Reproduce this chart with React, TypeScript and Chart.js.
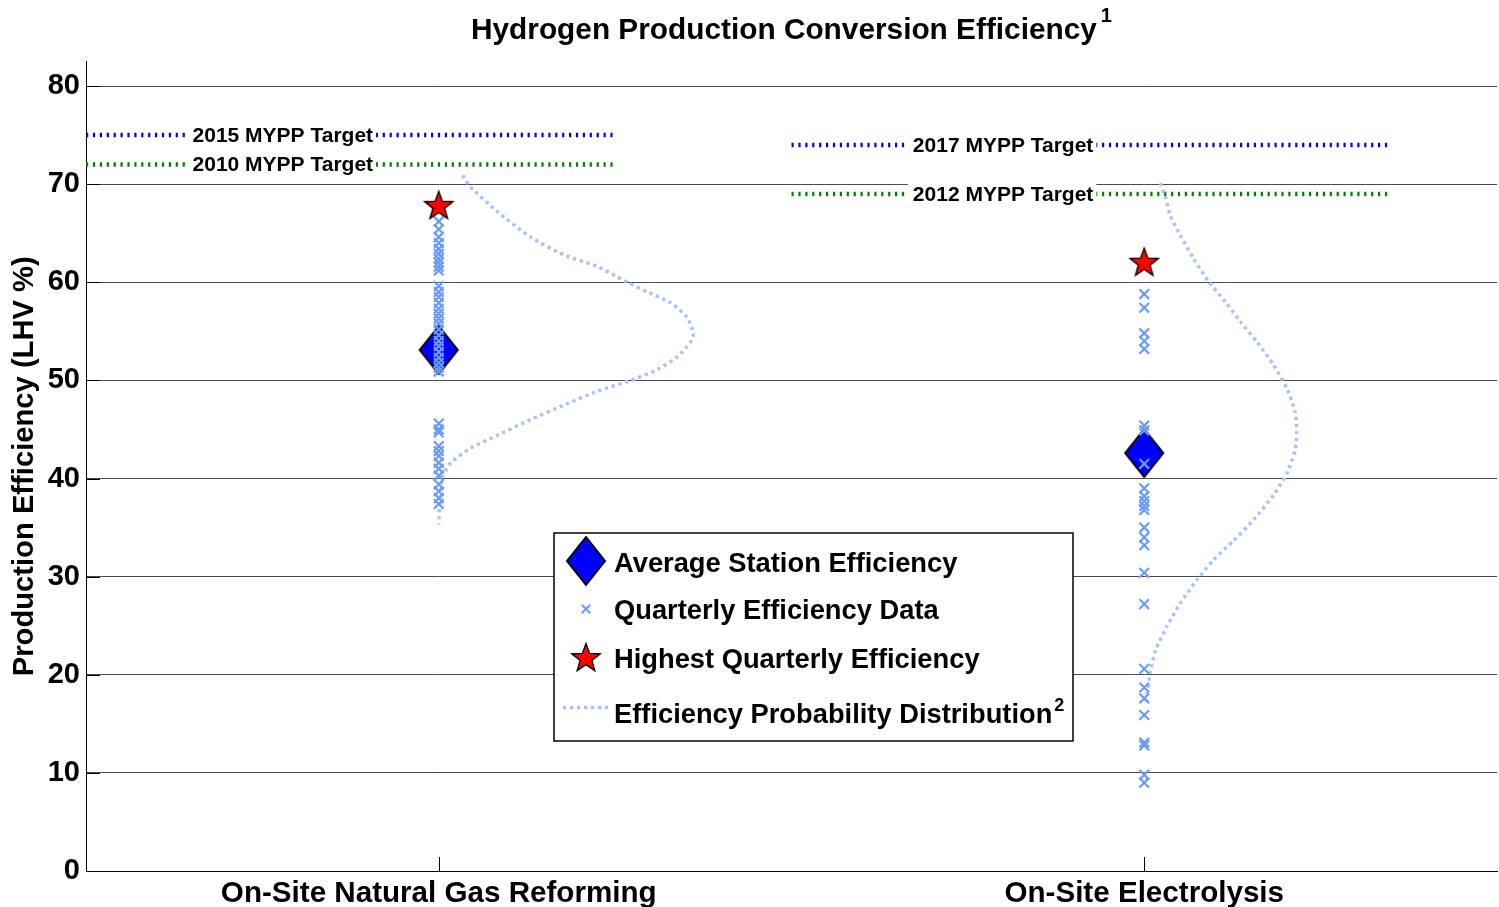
import React, { useEffect, useRef } from 'react';
import { Chart, registerables } from 'chart.js';

Chart.register(...registerables);

const FONT = '"Liberation Sans", Arial, Helvetica, sans-serif';

// ---------------- data ----------------
const categories = ['On-Site Natural Gas Reforming', 'On-Site Electrolysis'];
const yTicks = [0, 10, 20, 30, 40, 50, 60, 70, 80];

const ngQuarterly = [
  66.2, 65.4, 64.6, 64.0, 63.4, 62.9, 62.4, 62.0, 61.6, 61.2, 59.6, 59.0, 58.5, 57.9, 57.3,
  56.8, 56.3, 55.8, 55.2, 54.6, 54.0, 53.5, 52.9, 52.3, 51.8, 51.3, 50.9, 45.6, 45.0, 44.7,
  43.3, 42.8, 42.3, 41.6, 41.0, 40.3, 39.4, 38.7, 38.0, 37.4,
];
const elQuarterly = [
  58.8, 57.4, 54.8, 54.0, 53.2, 45.4, 44.9, 41.5, 39.0, 38.2, 37.7, 37.2, 36.8, 35.0, 34.0,
  33.2, 30.4, 27.2, 20.6, 18.7, 17.6, 15.9, 13.1, 12.8, 9.8, 9.0,
];
const averageEfficiency = [53.1, 42.6];
const highestEfficiency = [67.9, 62.1];

// probability distribution (efficiency value, horizontal density offset from category)
const ngDistEff = [
  70.9, 69.7, 67.2, 64.6, 62.8, 61.6, 60.2, 59.0, 57.9, 56.4, 54.8, 53.9, 52.4, 51.1, 50.0,
  48.9, 47.5, 46.0, 44.4, 43.1, 41.6, 40.2, 38.8, 37.1, 35.3,
];
const ngDistDensity = [
  0.034, 0.045, 0.083, 0.130, 0.177, 0.225, 0.262, 0.296, 0.329, 0.352, 0.361, 0.357, 0.338,
  0.310, 0.272, 0.225, 0.178, 0.130, 0.083, 0.045, 0.017, 0.005, 0.003, 0.001, 0.0,
];
const elDistEff = [
  70.1, 68.7, 66.8, 64.8, 62.4, 60.1, 58.0, 56.0, 53.9, 51.6, 49.2, 46.8, 44.7, 42.9, 40.5,
  38.3, 35.8, 33.7, 31.7, 29.7, 27.3, 24.9, 22.5, 20.5, 18.1, 17.1,
];
const elDistDensity = [
  0.023, 0.030, 0.037, 0.051, 0.070, 0.091, 0.115, 0.136, 0.160, 0.183, 0.202, 0.214, 0.216,
  0.214, 0.202, 0.183, 0.155, 0.127, 0.098, 0.075, 0.051, 0.032, 0.016, 0.009, 0.004, 0.001,
];

// MYPP targets
const targetLabels = ['2015 MYPP Target', '2010 MYPP Target', '2017 MYPP Target', '2012 MYPP Target'];
const targetValues = [75, 72, 74, 69];
const targetStart = [0.5, 0.5, 1.5, 1.5];
const targetEnd = [1.25, 1.25, 2.35, 2.35];
const targetLabelX = [0.651, 0.651, 1.672, 1.672];

const legendLabels = [
  'Average Station Efficiency',
  'Quarterly Efficiency Data',
  'Highest Quarterly Efficiency',
  'Efficiency Probability Distribution',
];
const chartTitle = 'Hydrogen Production Conversion Efficiency';
const yTitle = 'Production Efficiency (LHV %)';

// ---------------- styles ----------------
const TARGET_COLORS = ['#0000EE', '#008000', '#0000EE', '#008000'];
const X_COLOR = '#6A9BFA';
const CURVE_COLOR = '#A8C3FA';

function makeDiamond(): HTMLCanvasElement {
  const hw = 19, hh = 24;
  const c = document.createElement('canvas');
  c.width = hw * 2 + 4;
  c.height = hh * 2 + 4;
  const g = c.getContext('2d')!;
  const cx = c.width / 2, cy = c.height / 2;
  g.beginPath();
  g.moveTo(cx, cy - hh);
  g.lineTo(cx + hw, cy);
  g.lineTo(cx, cy + hh);
  g.lineTo(cx - hw, cy);
  g.closePath();
  g.fillStyle = '#0000FF';
  g.fill();
  g.lineWidth = 2;
  g.strokeStyle = '#000';
  g.stroke();
  return c;
}

function makeStar(): HTMLCanvasElement {
  const R = 15, r = 6.2;
  const c = document.createElement('canvas');
  c.width = R * 2 + 4;
  c.height = R * 2 + 4;
  const g = c.getContext('2d')!;
  const cx = c.width / 2, cy = c.height / 2 + 1.5;
  g.beginPath();
  for (let i = 0; i < 10; i++) {
    const rad = i % 2 === 0 ? R : r;
    const a = -Math.PI / 2 + (i * Math.PI) / 5;
    const px = cx + rad * Math.cos(a);
    const py = cy + rad * Math.sin(a);
    if (i === 0) g.moveTo(px, py);
    else g.lineTo(px, py);
  }
  g.closePath();
  g.fillStyle = '#FF0000';
  g.fill();
  g.lineWidth = 1.3;
  g.strokeStyle = '#000';
  g.stroke();
  return c;
}

export default function App() {
  const ref = useRef<HTMLCanvasElement>(null);

  useEffect(() => {
    const canvas = ref.current!;
    const diamond = makeDiamond();
    const star = makeStar();

    const datasets: any[] = [];
    targetLabels.forEach((lab, i) => {
      datasets.push({
        label: lab,
        data: [
          { x: targetStart[i], y: targetValues[i] },
          { x: targetEnd[i], y: targetValues[i] },
        ],
        showLine: true,
        borderColor: TARGET_COLORS[i],
        borderWidth: 4.5,
        borderDash: [2.2, 4.7],
        pointRadius: 0,
        order: 6,
      });
    });
    const distEff = [ngDistEff, elDistEff];
    const distDen = [ngDistDensity, elDistDensity];
    categories.forEach((cat, ci) => {
      datasets.push({
        label: 'dist ' + cat,
        data: distEff[ci].map((v, k) => ({ x: ci + 1 + distDen[ci][k], y: v })),
        showLine: true,
        borderColor: CURVE_COLOR,
        borderWidth: 3.5,
        borderDash: [3.2, 3.8],
        pointRadius: 0,
        tension: 0.2,
        order: 5,
      });
    });
    datasets.push({
      label: legendLabels[0],
      data: averageEfficiency.map((v, i) => ({ x: i + 1, y: v })),
      pointStyle: diamond,
      pointRadius: 20,
      order: 4,
    });
    const quarterly = [ngQuarterly, elQuarterly];
    categories.forEach((cat, ci) => {
      datasets.push({
        label: legendLabels[1] + ' ' + cat,
        data: quarterly[ci].map((v) => ({ x: ci + 1, y: v })),
        pointStyle: 'crossRot',
        pointRadius: 6.8,
        pointBorderWidth: 2.2,
        borderColor: X_COLOR,
        pointBorderColor: X_COLOR,
        backgroundColor: X_COLOR,
        order: 3,
      });
    });
    datasets.push({
      label: legendLabels[2],
      data: highestEfficiency.map((v, i) => ({ x: i + 1, y: v })),
      pointStyle: star,
      pointRadius: 15,
      order: 2,
    });

    const overlay = {
      id: 'overlay',
      afterDatasetsDraw(chart: any) {
        const ctx = chart.ctx as CanvasRenderingContext2D;
        const xs = chart.scales.x;
        const ys = chart.scales.y;
        const area = chart.chartArea;
        ctx.save();
        // inward tick marks
        ctx.strokeStyle = '#000';
        ctx.lineWidth = 1;
        ctx.setLineDash([]);
        yTicks.forEach((t) => {
          const py = Math.round(ys.getPixelForValue(t)) + 0.5;
          ctx.beginPath();
          ctx.moveTo(area.left, py);
          ctx.lineTo(area.left + 14, py);
          ctx.stroke();
        });
        categories.forEach((_, i) => {
          const px = Math.round(xs.getPixelForValue(i + 1)) + 0.5;
          ctx.beginPath();
          ctx.moveTo(px, area.bottom);
          ctx.lineTo(px, area.bottom - 14);
          ctx.stroke();
        });
        // target labels with white boxes
        ctx.font = `bold 21px ${FONT}`;
        ctx.textBaseline = 'middle';
        ctx.textAlign = 'left';
        targetLabels.forEach((lab, i) => {
          const px = xs.getPixelForValue(targetLabelX[i]);
          const py = ys.getPixelForValue(targetValues[i]);
          const w = ctx.measureText(lab).width;
          ctx.fillStyle = '#fff';
          ctx.fillRect(px - 5, py - 12, w + 8, 25);
          ctx.fillStyle = '#000';
          ctx.fillText(lab, px, py + 1);
        });
        // legend
        const lx = 554, ly = 533, lw = 519, lh = 208;
        ctx.fillStyle = '#fff';
        ctx.fillRect(lx, ly, lw, lh);
        ctx.strokeStyle = '#000';
        ctx.lineWidth = 1.5;
        ctx.strokeRect(lx, ly, lw, lh);
        const mx = 586;
        const rows = [561, 609, 657, 713];
        ctx.drawImage(diamond, mx - diamond.width / 2, rows[0] - diamond.height / 2);
        ctx.strokeStyle = X_COLOR;
        ctx.lineWidth = 2;
        ctx.beginPath();
        ctx.moveTo(mx - 4.2, rows[1] - 4.2);
        ctx.lineTo(mx + 4.2, rows[1] + 4.2);
        ctx.moveTo(mx + 4.2, rows[1] - 4.2);
        ctx.lineTo(mx - 4.2, rows[1] + 4.2);
        ctx.stroke();
        ctx.drawImage(star, mx - star.width / 2, rows[2] - star.height / 2);
        ctx.strokeStyle = CURVE_COLOR;
        ctx.lineWidth = 3.5;
        ctx.setLineDash([3.2, 3.8]);
        ctx.beginPath();
        ctx.moveTo(563, 707.5);
        ctx.lineTo(610, 707.5);
        ctx.stroke();
        ctx.setLineDash([]);
        ctx.fillStyle = '#000';
        ctx.font = `bold 27.3px ${FONT}`;
        ctx.textBaseline = 'alphabetic';
        const baselines = [572, 619, 668, 723];
        legendLabels.forEach((lab, i) => {
          ctx.fillText(lab, 614, baselines[i]);
        });
        const dW = ctx.measureText(legendLabels[3]).width;
        ctx.font = `bold 18px ${FONT}`;
        ctx.fillText('2', 614 + dW + 2, 711);
        // title with superscript
        ctx.font = `bold 29.8px ${FONT}`;
        const tW = ctx.measureText(chartTitle).width;
        ctx.font = `bold 20px ${FONT}`;
        const sW = ctx.measureText('1').width;
        const tx = (area.left + area.right) / 2 - (tW + sW + 4) / 2;
        ctx.font = `bold 29.8px ${FONT}`;
        ctx.fillText(chartTitle, tx, 39);
        ctx.font = `bold 20px ${FONT}`;
        ctx.fillText('1', tx + tW + 4, 22);
        ctx.restore();
      },
    };

    const chart = new Chart(canvas, {
      type: 'scatter',
      data: { datasets },
      options: {
        responsive: false,
        animation: false,
        devicePixelRatio: 1,
        layout: { autoPadding: false, padding: { left: 0, right: 2, top: 61.5, bottom: 0 } },
        plugins: {
          legend: { display: false },
          tooltip: { enabled: false },
          title: { display: false },
        },
        scales: {
          x: {
            type: 'linear',
            min: 0.5,
            max: 2.5,
            afterBuildTicks: (s: any) => {
              s.ticks = categories.map((_, i) => ({ value: i + 1 }));
            },
            afterFit: (s: any) => {
              s.height = 36;
              s.paddingLeft = 0;
              s.paddingRight = 0;
            },
            ticks: {
              autoSkip: false,
              maxRotation: 0,
              padding: 5,
              color: '#000',
              font: { family: FONT, size: 29.6, weight: 'bold' },
              callback: (v: any) => categories[Math.round(Number(v)) - 1] ?? '',
            },
            grid: { display: false, drawTicks: false },
            border: { display: true, color: '#000', width: 1 },
          },
          y: {
            type: 'linear',
            min: 0,
            max: 82.5,
            afterBuildTicks: (s: any) => {
              s.ticks = yTicks.map((v) => ({ value: v }));
            },
            afterFit: (s: any) => {
              s.width = 86;
              s.paddingTop = 0;
              s.paddingBottom = 0;
            },
            ticks: {
              padding: 6,
              color: '#000',
              font: { family: FONT, size: 29, weight: 'bold' },
            },
            title: {
              display: true,
              text: yTitle,
              color: '#000',
              font: { family: FONT, size: 29.2, weight: 'bold' },
              padding: { top: 7, bottom: 0 },
            },
            grid: { color: '#4a4a4a', lineWidth: 1, drawTicks: false },
            border: { display: true, color: '#000', width: 1 },
          },
        },
      } as any,
      plugins: [overlay],
    });

    return () => chart.destroy();
  }, []);

  return (
    <canvas
      ref={ref}
      width={1499}
      height={907}
      style={{ position: 'absolute', left: 0, top: 0, width: 1499, height: 907 }}
    />
  );
}
